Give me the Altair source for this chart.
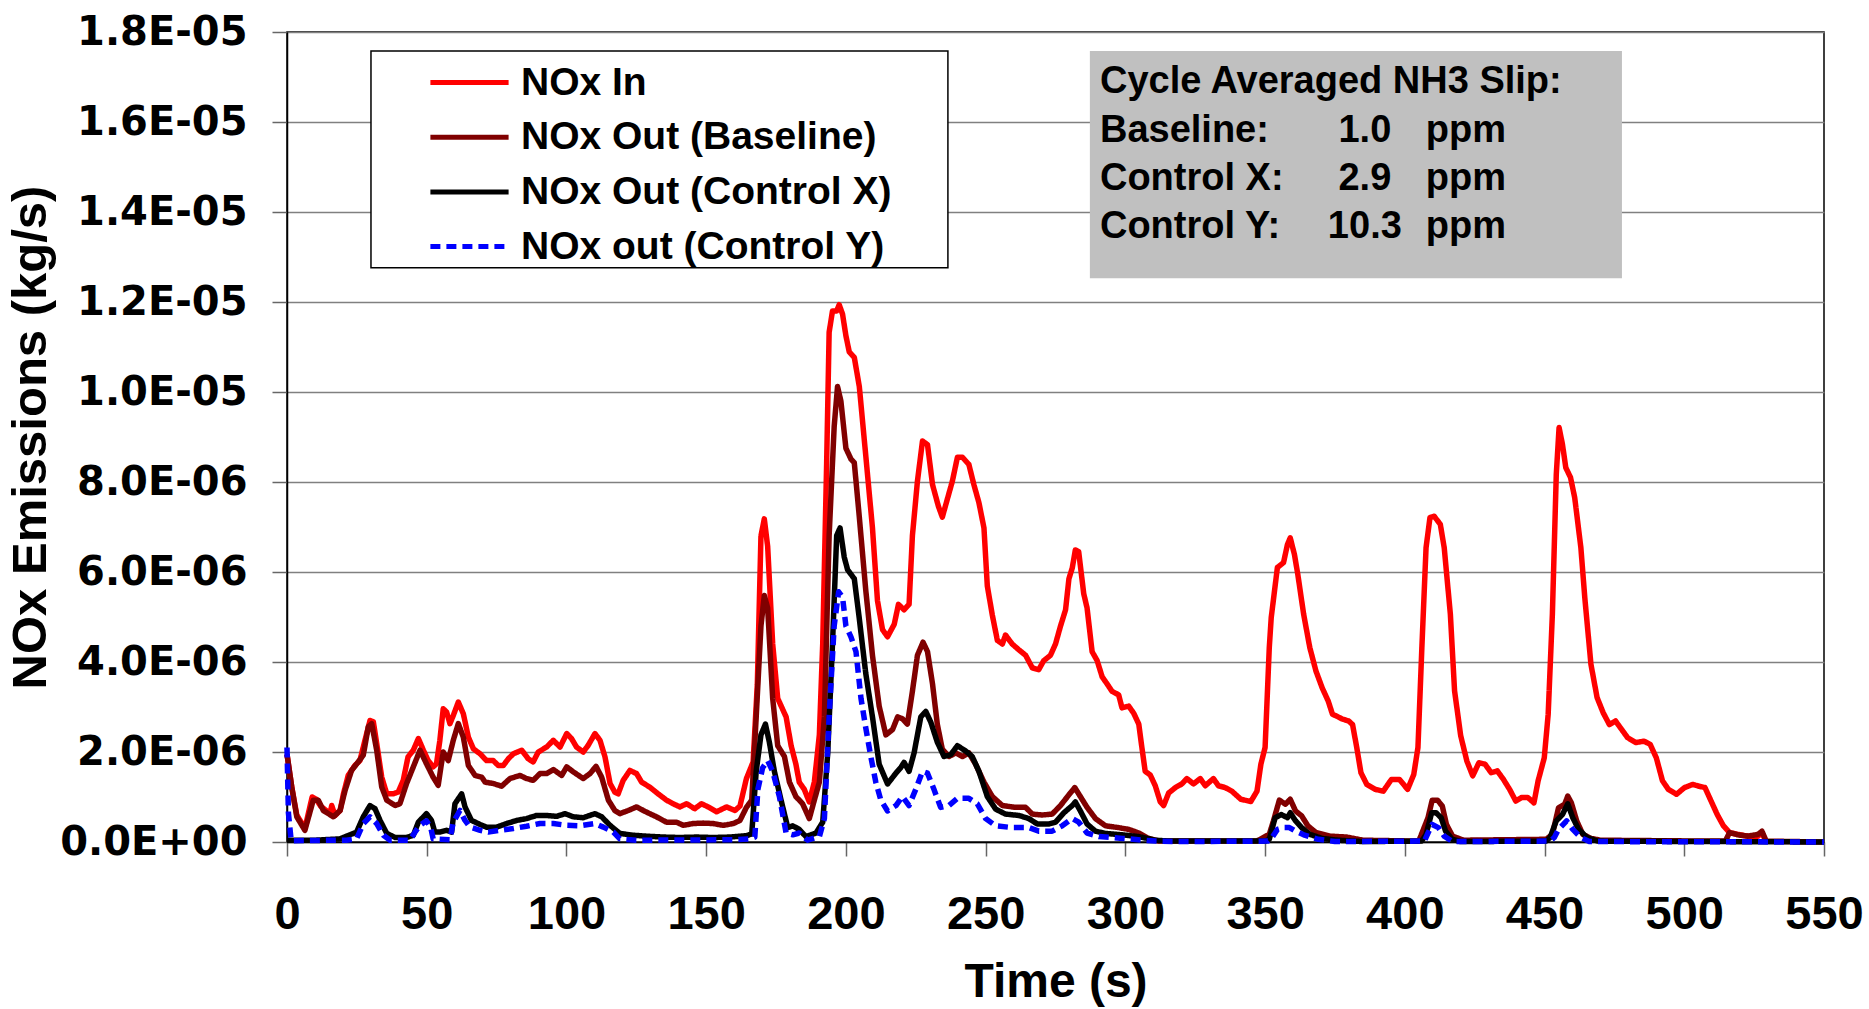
import json
import altair as alt
import pandas as pd

# ---------------- data (values in units of 1E-06 kg/s) ----------------
series_names = ["NOx In", "NOx Out (Baseline)", "NOx Out (Control X)", "NOx out (Control Y)"]
series_colors = ["#FF0000", "#800000", "#000000", "#0000FF"]
series_dash = [[1, 0], [1, 0], [1, 0], [10, 6]]

nox_in = [
    (0, 1.95), (1.7, 1.22), (3.5, 0.6), (6.4, 0.3), (9.0, 1.0), (10.5, 0.95), (12, 0.8), (15.4, 0.63),
    (16, 0.81), (17.2, 0.59), (19, 0.7), (20.2, 1.07), (21.9, 1.48), (24.3, 1.7), (26.1, 1.81),
    (27.9, 2.26), (29.7, 2.7), (30.9, 2.67), (32.1, 2.19), (33.9, 1.44), (35.7, 1.07), (38.0, 1.07),
    (39.8, 1.11), (41.6, 1.37), (43.3, 1.89), (45.2, 2.04), (47.0, 2.30), (48.8, 2.04), (50.5, 1.81),
    (52.3, 1.67), (53.5, 1.74), (54.7, 2.26), (55.9, 2.96), (57.1, 2.89), (58.3, 2.63), (59.5, 2.81),
    (61.3, 3.11), (63.1, 2.85), (64.9, 2.33), (66.7, 2.07), (69.1, 1.96), (71.4, 1.81), (73.8, 1.81),
    (75.6, 1.70), (77.4, 1.70), (79.2, 1.85), (81.0, 1.96), (84.0, 2.04), (86.3, 1.85), (88.1, 1.78),
    (89.9, 2.0), (92.9, 2.11), (95.3, 2.26), (97.7, 2.11), (100.1, 2.41), (101.8, 2.30), (103.6, 2.11),
    (106.0, 2.0), (107.8, 2.15), (110.2, 2.41), (112.0, 2.26), (113.8, 1.89), (115.6, 1.30),
    (117.3, 1.11), (118.5, 1.07), (120.3, 1.37), (122.7, 1.59), (125.1, 1.52), (126.9, 1.33),
    (129.8, 1.22), (132.8, 1.07), (135.8, 0.93), (138.2, 0.85), (140.6, 0.78), (143.0, 0.85),
    (145.9, 0.74), (148.3, 0.85), (150.7, 0.78), (153.7, 0.67), (157.3, 0.78), (160.3, 0.70),
    (162.1, 0.80), (164.4, 1.41), (166.8, 1.78), (168.3, 3.5), (169.6, 6.8), (170.8, 7.18),
    (172.0, 6.57), (173.8, 4.4), (175.6, 3.19), (178.6, 2.78), (180.4, 2.14), (182.1, 1.73),
    (183.3, 1.33), (185.1, 1.17), (186.9, 0.89), (188.7, 1.33), (190.5, 2.38), (191.7, 4.4),
    (193.1, 8.4), (194.0, 11.33), (195.2, 11.8), (196.7, 11.8), (197.6, 11.94), (198.8, 11.73),
    (200.0, 11.25), (201.2, 10.89), (203.0, 10.77), (204.8, 10.12), (207.1, 8.59), (209.5, 6.98),
    (211.3, 5.36), (213.1, 4.72), (214.9, 4.56), (217.3, 4.84), (218.8, 5.28), (220.8, 5.16),
    (222.6, 5.28), (223.8, 6.81), (225.6, 8.02), (227.4, 8.91), (229.2, 8.83), (231.0, 7.94),
    (233.1, 7.46), (234.5, 7.22), (236.3, 7.62), (238.1, 8.02), (239.9, 8.55), (241.7, 8.55),
    (244.0, 8.39), (245.8, 7.94), (247.6, 7.54), (249.4, 6.98), (250.6, 5.69), (252.4, 5.04),
    (254.2, 4.48), (256.0, 4.4), (257.1, 4.6), (259.5, 4.4), (261.9, 4.27), (264.3, 4.15),
    (266.7, 3.87), (269.0, 3.83), (270.8, 4.03), (273.2, 4.15), (275.0, 4.4), (276.8, 4.8),
    (278.6, 5.16), (279.8, 5.85), (281.0, 6.09), (282.1, 6.49), (283.3, 6.45), (285.1, 5.52),
    (286.3, 5.2), (288.1, 4.23), (289.9, 4.03), (291.7, 3.67), (293.5, 3.51), (295.2, 3.35),
    (297.6, 3.27), (298.8, 2.98), (301.2, 3.02), (303.0, 2.86), (304.8, 2.62), (306.0, 2.06),
    (307.1, 1.57), (308.9, 1.49), (310.7, 1.25), (312.5, 0.89), (313.7, 0.81), (315.5, 1.09),
    (317.9, 1.21), (320.2, 1.29), (322.0, 1.41), (324.4, 1.29), (326.8, 1.41), (328.6, 1.25),
    (331.5, 1.41), (333.3, 1.25), (335.7, 1.21), (338.1, 1.13), (341.3, 0.95), (344.9, 0.90),
    (347.1, 1.13), (348.5, 1.73), (350.0, 2.10), (351.5, 4.32), (352.2, 4.99), (354.4, 6.10),
    (356.6, 6.21), (358.0, 6.61), (359.0, 6.76), (360.5, 6.39), (361.7, 5.95), (363.8, 5.06),
    (366.0, 4.32), (368.2, 3.80), (370.4, 3.43), (372.6, 3.13), (374.1, 2.84), (375.5, 2.80),
    (377.7, 2.73), (379.9, 2.69), (381.3, 2.61), (382.8, 2.10), (384.3, 1.54), (386.4, 1.28),
    (389.4, 1.17), (392.3, 1.13), (395.2, 1.39), (398.1, 1.39), (401.0, 1.17), (403.2, 1.50),
    (404.7, 2.10), (406.1, 4.32), (407.6, 6.54), (409.0, 7.21), (410.5, 7.24), (412.7, 7.06),
    (414.1, 6.54), (416.3, 5.06), (417.8, 3.36), (420.0, 2.36), (422.2, 1.80), (424.3, 1.47),
    (426.5, 1.76), (428.7, 1.73), (430.9, 1.54), (433.1, 1.58), (435.3, 1.39), (437.5, 1.17),
    (439.7, 0.91), (441.8, 0.99), (444.0, 0.99), (446.2, 0.87), (447.7, 1.36), (449.9, 1.87),
    (451.3, 2.84), (452.8, 5.06), (454.2, 8.17), (455.2, 9.21), (456.4, 8.84), (457.6, 8.32),
    (459.3, 8.10), (460.8, 7.65), (463.0, 6.54), (464.4, 5.43), (466.6, 3.95), (468.8, 3.21),
    (471.0, 2.87), (473.2, 2.61), (475.4, 2.69), (477.6, 2.50), (479.7, 2.32), (482.7, 2.21),
    (485.6, 2.24), (487.8, 2.17), (490.0, 1.87), (492.2, 1.36), (494.3, 1.17), (497.2, 1.06),
    (500.1, 1.21), (503.1, 1.28), (505.2, 1.24), (507.4, 1.21), (509.6, 0.91), (511.8, 0.61),
    (514.0, 0.36), (516.2, 0.21), (519.1, 0.17), (522.7, 0.13), (526.4, 0.13), (527.8, 0.21),
    (529.0, 0.04),
]

nox_out_baseline = [
    (0, 1.95), (1.7, 1.22), (3.5, 0.56), (6.4, 0.26), (9.4, 0.93), (11.2, 0.93), (13.0, 0.7),
    (16.6, 0.56), (19, 0.7), (20.8, 1.15), (23.1, 1.59), (25.5, 1.78), (27.3, 1.93), (29.1, 2.56),
    (30.3, 2.63), (32.1, 2.04), (33.9, 1.22), (35.7, 0.93), (38.7, 0.81), (40.4, 0.85), (42.8, 1.30),
    (45.2, 1.67), (47.6, 2.04), (49.9, 1.74), (52.3, 1.44), (54.1, 1.26), (55.9, 2.0), (57.7, 1.81),
    (59.5, 2.26), (61.3, 2.63), (63.1, 2.33), (64.9, 1.70), (67.3, 1.48), (69.7, 1.44), (70.9, 1.33),
    (73.8, 1.30), (76.8, 1.24), (79.8, 1.41), (83.4, 1.48), (85.7, 1.41), (88.1, 1.37), (90.5, 1.52),
    (92.9, 1.52), (95.3, 1.61), (98.3, 1.48), (100.1, 1.67), (102.4, 1.56), (106.0, 1.41),
    (108.4, 1.52), (110.6, 1.68), (112.6, 1.44), (115.0, 0.93), (117.3, 0.70), (119.1, 0.63),
    (122.1, 0.70), (125.1, 0.78), (127.5, 0.70), (129.8, 0.63), (132.2, 0.56), (135.8, 0.44),
    (139.4, 0.44), (141.8, 0.37), (145.3, 0.41), (148.9, 0.42), (152.5, 0.41), (156.1, 0.37),
    (159.7, 0.41), (162.1, 0.48), (164.4, 0.77), (166.3, 0.93), (167.9, 2.78), (169.6, 4.8),
    (170.8, 5.48), (172.0, 5.2), (173.8, 3.19), (175.6, 2.14), (178.0, 1.9), (179.8, 1.33),
    (182.1, 1.01), (184.5, 0.85), (186.9, 0.52), (188.7, 0.93), (190.5, 1.33), (192.3, 2.78),
    (194.0, 6.81), (195.8, 9.23), (197.0, 10.12), (198.2, 9.8), (200.0, 8.75), (201.8, 8.51),
    (203.0, 8.43), (204.8, 7.22), (207.1, 5.6), (209.5, 4.15), (211.9, 3.02), (214.3, 2.38),
    (216.7, 2.5), (218.5, 2.78), (220.2, 2.74), (222.0, 2.62), (223.8, 3.35), (225.6, 4.15),
    (227.6, 4.44), (229.2, 4.23), (231.0, 3.51), (232.7, 2.62), (234.5, 2.06), (236.9, 1.9),
    (239.3, 1.98), (241.7, 1.9), (244.0, 1.98), (246.4, 1.73), (249.4, 1.33), (252.4, 1.01),
    (256.0, 0.81), (260.7, 0.77), (264.3, 0.77), (266.7, 0.62), (270.2, 0.60), (273.8, 0.62),
    (276.8, 0.81), (279.8, 1.05), (281.9, 1.21), (283.9, 1.01), (286.3, 0.77), (289.3, 0.52),
    (292.9, 0.36), (297.6, 0.32), (301.2, 0.28), (304.8, 0.2), (308.3, 0.08), (311.9, 0.02),
    (347, 0.02), (351.5, 0.17), (353, 0.47), (355.1, 0.93), (357.3, 0.84), (359.0, 0.95),
    (360.9, 0.69), (363.1, 0.58), (365.3, 0.36), (368.2, 0.21), (373.3, 0.13), (379.2, 0.11),
    (385, 0.04), (405, 0.02), (408.3, 0.54), (409.8, 0.93), (411.7, 0.93), (413.4, 0.80),
    (414.9, 0.39), (417.1, 0.13), (421, 0.04), (450.6, 0.06), (452.8, 0.17), (455, 0.76),
    (457.2, 0.84), (458.3, 1.02), (459.6, 0.87), (461.5, 0.47), (463.7, 0.17), (466.6, 0.08),
    (470, 0.04), (508.9, 0.02), (514.7, 0.02), (516.2, 0.21), (519.1, 0.16), (522.7, 0.13),
    (526.4, 0.17), (527.8, 0.24), (529.3, 0.02), (550, 0.0),
]

nox_out_control_x = [
    (0, 0.04), (10, 0.04), (19, 0.07), (21.3, 0.13), (24.9, 0.22), (27.3, 0.56), (29.7, 0.81),
    (31.5, 0.74), (33.3, 0.48), (35.7, 0.19), (38.7, 0.10), (42.8, 0.10), (45.2, 0.15), (47.0, 0.44),
    (49.9, 0.63), (51.7, 0.48), (52.9, 0.22), (54.7, 0.22), (57.1, 0.26), (58.9, 0.22), (60.1, 0.85),
    (62.5, 1.07), (63.7, 0.78), (66.0, 0.48), (69.1, 0.39), (71.4, 0.33), (75.0, 0.33), (78.6, 0.41),
    (82.2, 0.48), (85.7, 0.52), (89.3, 0.59), (92.9, 0.59), (96.5, 0.57), (99.5, 0.63), (102.4, 0.56),
    (106.0, 0.54), (110.2, 0.63), (112.6, 0.56), (115.6, 0.37), (119.1, 0.19), (123.9, 0.15),
    (128.6, 0.13), (134.6, 0.11), (140.6, 0.10), (146.5, 0.11), (152.5, 0.10), (158.5, 0.11),
    (164.4, 0.14), (166.3, 0.18), (167.9, 1.57), (169.6, 2.38), (171.2, 2.62), (172.6, 2.22),
    (174.4, 1.57), (176.8, 0.93), (179.2, 0.32), (181.0, 0.36), (183.3, 0.28), (185.7, 0.12),
    (189.3, 0.2), (191.7, 0.44), (193.5, 1.98), (195.2, 4.4), (196.7, 6.81), (197.9, 6.98),
    (199.4, 6.33), (200.6, 6.05), (203.0, 5.85), (204.8, 4.96), (207.1, 3.75), (209.5, 2.78),
    (211.9, 1.73), (214.9, 1.29), (217.9, 1.53), (219.6, 1.65), (220.8, 1.77), (222.6, 1.57),
    (224.4, 1.98), (226.8, 2.78), (228.6, 2.9), (230.4, 2.66), (232.7, 2.22), (235.1, 1.9),
    (237.5, 1.94), (239.9, 2.14), (242.9, 2.02), (245.2, 1.9), (247.6, 1.57), (250.6, 1.01),
    (253.6, 0.73), (257.1, 0.62), (261.9, 0.59), (265.5, 0.52), (268.5, 0.40), (272.6, 0.40),
    (275.0, 0.44), (278.0, 0.65), (281.0, 0.81), (282.1, 0.89), (283.9, 0.69), (286.3, 0.40),
    (289.3, 0.24), (292.9, 0.19), (298.8, 0.16), (304.8, 0.12), (310.7, 0.04), (316, 0.02),
    (350, 0.02), (351.5, 0.06), (353.6, 0.54), (355.8, 0.61), (358.0, 0.54), (359.0, 0.65),
    (360.9, 0.47), (363.1, 0.32), (366, 0.17), (370.4, 0.08), (376, 0.04), (385, 0.01), (406, 0.02),
    (407.6, 0.17), (409.6, 0.65), (411.2, 0.65), (413.0, 0.54), (414.6, 0.24), (417, 0.06),
    (420, 0.01), (450.5, 0.02), (452, 0.1), (454.2, 0.47), (456.4, 0.61), (458.3, 0.85),
    (460.1, 0.54), (462.2, 0.28), (465.2, 0.1), (469, 0.02), (550, 0.0),
]

nox_out_control_y = [
    (0, 2.1), (0.5, 0.65), (1.5, 0.03), (21.3, 0.04), (24.9, 0.07), (27.3, 0.41), (29.7, 0.56),
    (32.1, 0.41), (34.5, 0.15), (36.9, 0.04), (44.0, 0.04), (45.8, 0.22), (47.6, 0.37), (49.9, 0.47),
    (51.4, 0.33), (52.3, 0.07), (58.3, 0.05), (59.5, 0.44), (61.9, 0.70), (63.7, 0.48), (65.5, 0.33),
    (69.1, 0.26), (72.0, 0.22), (76.2, 0.26), (81.0, 0.30), (85.7, 0.35), (90.5, 0.41), (95.3, 0.41),
    (100.1, 0.37), (104.8, 0.36), (110.2, 0.41), (113.2, 0.33), (116.8, 0.22), (119.1, 0.07),
    (125, 0.04), (160, 0.05), (165.6, 0.07), (167.4, 0.11), (168.5, 1.17), (170.2, 1.65),
    (172.0, 1.81), (173.8, 1.57), (176.2, 1.01), (178.6, 0.2), (181.0, 0.16), (183.3, 0.2),
    (186.3, 0.04), (190.5, 0.12), (192.3, 0.52), (194.0, 2.78), (195.8, 4.8), (197.4, 5.56),
    (198.8, 5.44), (200.0, 4.8), (201.8, 4.56), (203.6, 4.23), (205.4, 3.19), (207.1, 2.54),
    (208.9, 1.9), (210.7, 1.33), (212.5, 0.93), (214.9, 0.69), (217.9, 0.81), (220.2, 1.01),
    (222.6, 0.81), (225.0, 1.17), (227.4, 1.57), (229.2, 1.53), (231.5, 1.17), (233.9, 0.77),
    (236.9, 0.81), (239.9, 0.97), (244.0, 0.97), (247.0, 0.85), (250.0, 0.52), (253.6, 0.36),
    (259.5, 0.32), (265.5, 0.32), (269.0, 0.24), (273.8, 0.24), (277.4, 0.36), (281.0, 0.52),
    (283.3, 0.44), (286.3, 0.2), (290.5, 0.12), (299, 0.08), (310.7, 0.02), (320, 0.01), (351, 0.02),
    (352.5, 0.1), (354.4, 0.28), (356.6, 0.32), (358.7, 0.32), (360.9, 0.24), (363.8, 0.16),
    (369, 0.06), (375, 0.01), (407, 0.02), (408.3, 0.2), (409.8, 0.39), (412, 0.32), (414.1, 0.13),
    (417, 0.01), (452, 0.02), (453.5, 0.1), (455, 0.28), (457.9, 0.47), (460.1, 0.28), (463.0, 0.1),
    (466, 0.01), (550, 0.0),
]

x_ticks = [0, 50, 100, 150, 200, 250, 300, 350, 400, 450, 500, 550]
y_ticks = [0, 2e-6, 4e-6, 6e-6, 8e-6, 1e-5, 1.2e-5, 1.4e-5, 1.6e-5, 1.8e-5]
y_tick_labels = ["0.0E+00", "2.0E-06", "4.0E-06", "6.0E-06", "8.0E-06",
                 "1.0E-05", "1.2E-05", "1.4E-05", "1.6E-05", "1.8E-05"]

info_labels = ["Cycle Averaged NH3 Slip:", "Baseline:", "Control X:", "Control Y:"]
info_values = ["", "1.0", "2.9", "10.3"]
info_units = ["", "ppm", "ppm", "ppm"]

# ---------------- build tables ----------------
rows = []
for name, pts in zip(series_names,
                     [nox_in, nox_out_baseline, nox_out_control_x, nox_out_control_y]):
    for t, v in pts:
        rows.append({"time": t, "nox": v * 1e-6, "series": name})
df = pd.DataFrame(rows)

# annotation boxes (data coordinates: seconds, kg/s)
info_box_df = pd.DataFrame({"time": [287.3], "time2": [477.7], "nox": [1.758e-5], "nox2": [1.253e-5]})
legend_box_df = pd.DataFrame({"time": [30.05], "time2": [236.5], "nox": [1.758e-5], "nox2": [1.276e-5]})
line_y = [1.690e-5, 1.581e-5, 1.473e-5, 1.366e-5]
text_df = pd.DataFrame({
    "label": info_labels, "value": info_values, "unit": info_units, "nox": line_y,
    "tl": [290.9] * 4, "tv": [385.7] * 4, "tu": [407.5] * 4,
})

FONT = "Liberation Sans"
X_TITLE = "Time (s)"
Y_TITLE = "NOx Emissions (kg/s)"
x_scale = alt.Scale(domain=[0, 550], nice=False, zero=False)
y_scale = alt.Scale(domain=[0, 1.8e-5], nice=False)

x_axis = alt.Axis(values=x_ticks, title=X_TITLE, grid=False, labelFlush=False,
                  labelFont=FONT, labelFontSize=47, labelFontWeight="bold", labelColor="black",
                  labelPadding=35, tickSize=14, tickColor="#666666", tickWidth=1.5,
                  domainColor="black", domainWidth=1.5,
                  titleFont=FONT, titleFontSize=48, titleFontWeight="bold", titleColor="black",
                  titlePadding=21)
y_axis = alt.Axis(values=y_ticks, title=Y_TITLE, grid=True,
                  gridColor="#808080", gridWidth=1.5, labelFlush=False, labelLimit=400,
                  labelExpr=json.dumps(y_tick_labels) + "[round(datum.value / 2e-6)]",
                  labelFont="DejaVu Sans", labelFontSize=40, labelFontWeight="bold",
                  labelColor="black", labelPadding=25, tickSize=15, tickColor="#666666",
                  tickWidth=1.5, domainColor="black", domainWidth=1.5,
                  titleFont=FONT, titleFontSize=49, titleFontWeight="bold", titleColor="black",
                  titlePadding=32)

legend = alt.Legend(orient="none", legendX=84, legendY=19, padding=4,
                    symbolType="M-1.58,0H1.58", symbolSize=2450, symbolStrokeWidth=5,
                    symbolOffset=67, labelOffset=24,
                    labelFont=FONT, labelFontSize=39, labelFontWeight="bold", labelColor="black",
                    labelLimit=900, rowPadding=6.7)

base = alt.Chart(df).mark_line(strokeWidth=5.5, strokeJoin="round").encode(
    x=alt.X("time:Q", scale=x_scale, axis=x_axis),
    y=alt.Y("nox:Q", scale=y_scale, axis=y_axis),
    color=alt.Color("series:N", title=None,
                    scale=alt.Scale(domain=series_names, range=series_colors), legend=legend),
    strokeDash=alt.StrokeDash("series:N", title=None,
                              scale=alt.Scale(domain=series_names, range=series_dash),
                              legend=legend),
)
lines = [base.transform_filter(alt.datum.series == name) for name in series_names]

def box_layer(data, fill, stroke):
    kw = {"fill": fill}
    if stroke:
        kw.update(stroke=stroke, strokeWidth=1.5)
    return alt.Chart(data).mark_rect(**kw).encode(
        x=alt.X("time:Q", scale=x_scale, axis=x_axis),
        x2="time2",
        y=alt.Y("nox:Q", scale=y_scale, axis=y_axis),
        y2="nox2",
    )

def text_layer(field, xfield, align):
    return alt.Chart(text_df).mark_text(
        align=align, baseline="middle", font=FONT, fontSize=38, fontWeight="bold", color="black"
    ).encode(
        x=alt.X(f"{xfield}:Q", scale=x_scale, axis=x_axis),
        y=alt.Y("nox:Q", scale=y_scale, axis=y_axis),
        text=f"{field}:N",
    )

chart = alt.layer(
    box_layer(legend_box_df, "white", "black"),
    box_layer(info_box_df, "#C0C0C0", None),
    *lines,
    text_layer("label", "tl", "left"),
    text_layer("value", "tv", "center"),
    text_layer("unit", "tu", "left"),
).properties(
    width=1537, height=810,
    autosize=alt.AutoSizeParams(type="none"),
    padding={"left": 287, "top": 32, "right": 45, "bottom": 167},
).configure_view(stroke="black", strokeWidth=1.5)

chart.save("out.html", embed_options={"renderer": "svg", "actions": False})
